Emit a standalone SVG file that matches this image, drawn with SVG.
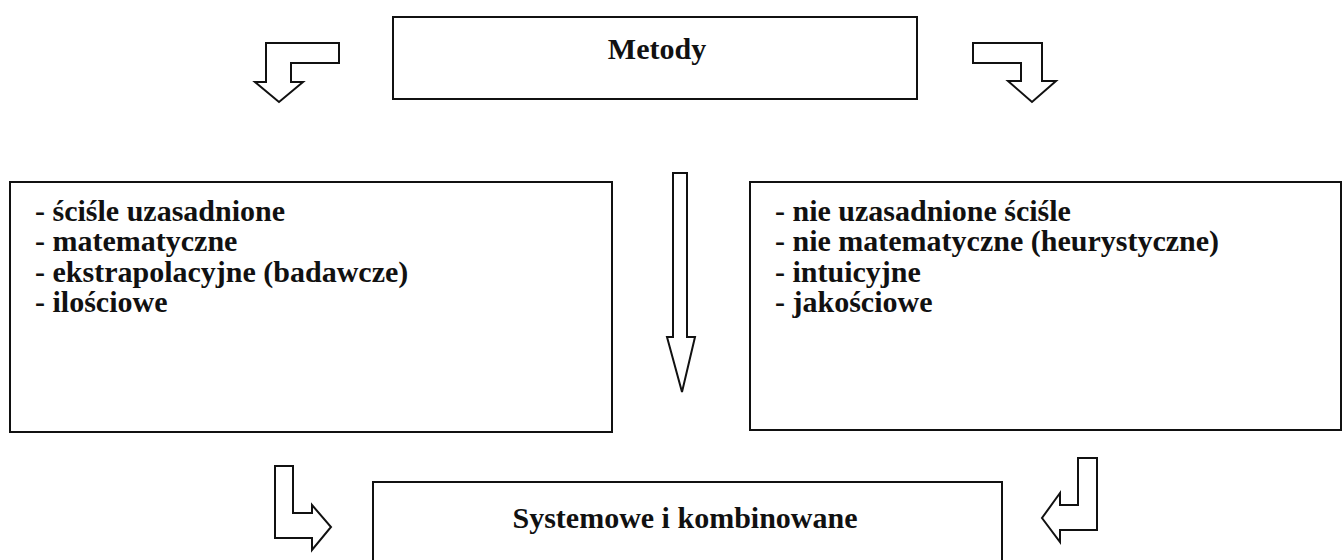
<svg xmlns="http://www.w3.org/2000/svg" width="1343" height="560" viewBox="0 0 1343 560">
  <style>
    .box { fill: #ffffff; stroke: #111111; stroke-width: 2; }
    .arrow { fill: #ffffff; stroke: #111111; stroke-width: 2; stroke-linejoin: miter; }
    .title { font-family: "Liberation Serif", "Times New Roman", serif; font-weight: bold; font-size: 30px; fill: #111111; text-anchor: middle; }
    .item { font-family: "Liberation Serif", "Times New Roman", serif; font-weight: bold; font-size: 30px; fill: #111111; }
  </style>
  <rect width="1343" height="560" fill="#ffffff"/>

  <!-- Top node -->
  <g id="metody">
    <rect class="box" x="393" y="17" width="524" height="82"/>
    <text class="title" x="657" y="59">Metody</text>
  </g>

  <!-- Left node: exact methods -->
  <g id="scisle">
    <rect class="box" x="10" y="182" width="602" height="250"/>
    <text class="item" x="35" y="221">- ściśle uzasadnione</text>
    <text class="item" x="35" y="251">- matematyczne</text>
    <text class="item" x="35" y="282">- ekstrapolacyjne (badawcze)</text>
    <text class="item" x="35" y="312">- ilościowe</text>
  </g>

  <!-- Right node: heuristic methods -->
  <g id="heurystyczne">
    <rect class="box" x="750" y="182" width="591" height="248"/>
    <text class="item" x="775" y="221">- nie uzasadnione ściśle</text>
    <text class="item" x="775" y="251">- nie matematyczne (heurystyczne)</text>
    <text class="item" x="775" y="282">- intuicyjne</text>
    <text class="item" x="775" y="312">- jakościowe</text>
  </g>

  <!-- Bottom node -->
  <g id="systemowe">
    <rect class="box" x="373" y="482" width="629" height="100"/>
    <text class="title" x="685" y="528">Systemowe i kombinowane</text>
  </g>

  <!-- Block arrows -->
  <g id="connectors">
    <polygon class="arrow" points="339,43 266,43 266,82 255,82 279,102 303,82 291,82 291,63 339,63"/>
    <polygon class="arrow" points="973,43 1042,43 1042,81 1056,81 1032,102 1008,81 1021,81 1021,63 973,63"/>
    <polygon class="arrow" points="673,173 687,173 687,337 695,337 682,392 667,337 673,337"/>
    <polygon class="arrow" points="275,466 293,466 293,513 312,513 312,505 331,527 312,550 312,538 275,538"/>
    <polygon class="arrow" points="1097,458 1078,458 1078,505 1060,505 1060,493 1042,518 1060,542 1060,530 1097,530"/>
  </g>
</svg>
